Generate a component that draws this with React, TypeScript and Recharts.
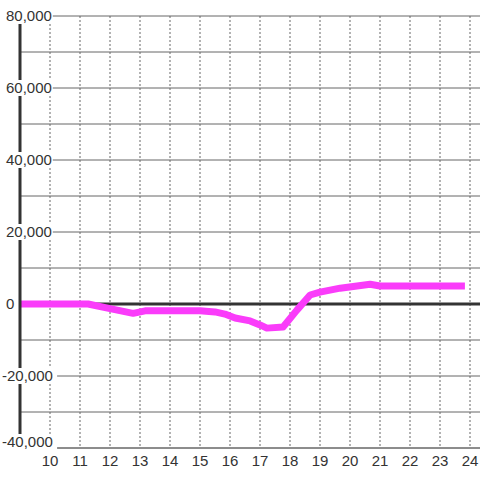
import { CartesianGrid, Line, LineChart, ReferenceLine, XAxis, YAxis } from 'recharts'

const hours = [9, 11.27, 12.0, 12.77, 13.17, 14, 15, 15.5, 15.83, 16.17, 16.67, 17.0, 17.23, 17.77, 18.23, 18.67, 19.0, 19.67, 20.67, 21.0, 22, 23, 23.83]
const values = [0, 0, -1300, -2600, -1900, -1900, -1900, -2200, -2800, -3900, -4700, -5800, -6700, -6400, -1700, 2500, 3300, 4400, 5500, 5000, 5000, 5000, 5000]

const xTicks = [10, 11, 12, 13, 14, 15, 16, 17, 18, 19, 20, 21, 22, 23, 24]
const yTicks = [-40000, -30000, -20000, -10000, 0, 10000, 20000, 30000, 40000, 50000, 60000, 70000, 80000]

const data = hours.map((h, i) => ({ h, v: values[i] }))

const font = '"Liberation Sans", Arial, sans-serif'

function YTick(props: any) {
  const { y, payload } = props
  const v = payload.value as number
  if (v % 20000 !== 0) return <g />
  const label = v.toLocaleString('en-US')
  const x0 = v < 0 ? 2 : 6
  const w = label.length * 8.3 - (label.includes(',') ? 4 : 0) + 2
  const yy = v === -40000 ? y - 6 : y
  return (
    <g>
      <rect x={x0 - 1} y={yy - 8} width={w} height={16} fill="#ffffff" />
      <text x={x0} y={yy + 5} fontSize={15} fill="#333333" fontFamily={font} textAnchor="start">
        {label}
      </text>
    </g>
  )
}

function XTick(props: any) {
  const { x, payload } = props
  return (
    <text x={x} y={466} fontSize={15} fill="#333333" fontFamily={font} textAnchor="middle">
      {payload.value}
    </text>
  )
}

export default function App() {
  return (
    <div style={{ width: 480, height: 480, background: '#ffffff' }}>
      <style>{'body{margin:0}'}</style>
      <LineChart width={480} height={480} data={data} margin={{ top: 16, right: 0, bottom: 0, left: 0 }}>
        <CartesianGrid vertical={false} stroke="#666666" horizontalValues={yTicks} />
        <CartesianGrid horizontal={false} stroke="#666666" strokeDasharray="2 2" verticalValues={xTicks} />
        <XAxis
          dataKey="h"
          type="number"
          domain={[9, 24.333]}
          ticks={xTicks}
          height={32}
          axisLine={{ stroke: '#666666', strokeWidth: 1 }}
          tickLine={false}
          tick={<XTick />}
          allowDataOverflow
        />
        <YAxis
          type="number"
          domain={[-40000, 80000]}
          ticks={yTicks}
          width={20}
          axisLine={{ stroke: '#333333', strokeWidth: 3 }}
          tickLine={false}
          tick={<YTick />}
          interval={0}
        />
        <ReferenceLine y={0} stroke="#333333" strokeWidth={3} />
        <Line
          dataKey="v"
          stroke="#fa3cfa"
          strokeWidth={7}
          dot={false}
          type="linear"
          strokeLinejoin="round"
          isAnimationActive={false}
        />
      </LineChart>
    </div>
  )
}
